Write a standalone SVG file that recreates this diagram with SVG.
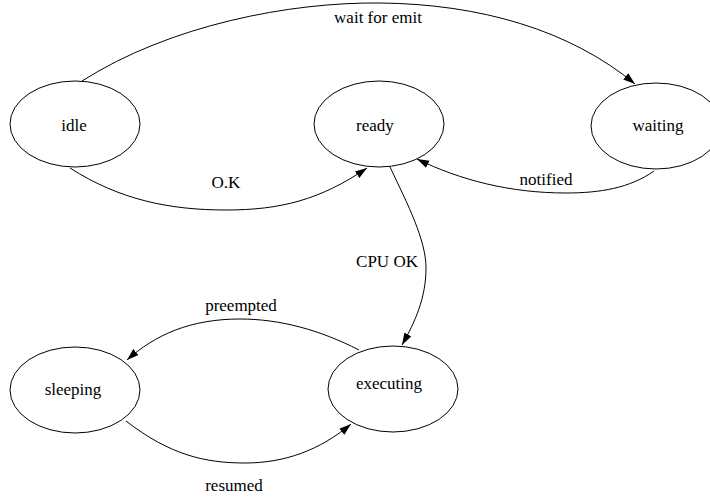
<svg xmlns="http://www.w3.org/2000/svg" width="710" height="499" viewBox="0 0 710 499">
<style>
.node ellipse{fill:none;stroke:#000;stroke-width:1}
text{font-family:"Liberation Serif","Times New Roman",serif;font-size:17px;fill:#000;text-anchor:middle}
.edge path{fill:none;stroke:#000;stroke-width:1}
</style>
<defs>
<marker id="arr" markerUnits="userSpaceOnUse" markerWidth="13" markerHeight="9" refX="12" refY="4" orient="auto">
<path d="M0,0 L12,4 L0,8 z" fill="#000"/>
</marker>
</defs>
<rect width="710" height="499" fill="#fff"/>
<g id="connectors" class="edge">
<path d="M82,81 C170,25 290,2 380,3 C480,4 570,30 635,84" marker-end="url(#arr)"/>
<path d="M70,168 C120,200 170,210 226,210 C280,210 320,200 367,168" marker-end="url(#arr)"/>
<path d="M654,171 C630,188 600,193 566,193 C510,193 460,180 417,159" marker-end="url(#arr)"/>
<path d="M390,167 C408,205 426,240 426,268 C426,298 415,322 402,345" marker-end="url(#arr)"/>
<path d="M359,350 C320,330 280,319 240,319 C190,319 155,335 127,360" marker-end="url(#arr)"/>
<path d="M126,421 C170,455 205,463 245,463 C285,463 320,450 351,424" marker-end="url(#arr)"/>
<text x="378" y="23">wait for emit</text>
<text x="226" y="188">O.K</text>
<text x="546" y="185">notified</text>
<text x="387" y="267">CPU OK</text>
<text x="241" y="311">preempted</text>
<text x="234" y="491">resumed</text>
</g>
<g id="idle" class="node"><ellipse cx="75" cy="124" rx="65" ry="43"/><text x="74" y="131">idle</text></g>
<g id="ready" class="node"><ellipse cx="379" cy="124" rx="65" ry="43"/><text x="375" y="131">ready</text></g>
<g id="waiting" class="node"><ellipse cx="656" cy="126" rx="65" ry="43"/><text x="658" y="131">waiting</text></g>
<g id="sleeping" class="node"><ellipse cx="75" cy="390" rx="65" ry="43"/><text x="73" y="395">sleeping</text></g>
<g id="executing" class="node"><ellipse cx="393" cy="389" rx="65" ry="43"/><text x="389" y="389">executing</text></g>
</svg>
